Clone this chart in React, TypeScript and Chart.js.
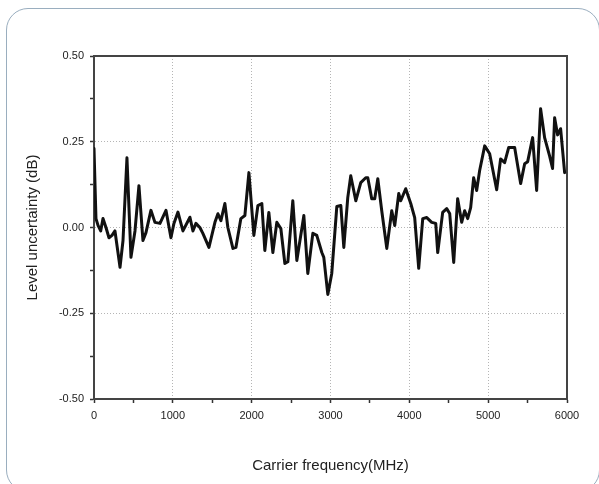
import React, { useEffect, useRef } from "react";
import { Chart, registerables } from "chart.js";

Chart.register(...registerables);

const freqMHz = [
  0, 25, 51, 85, 114, 152, 190, 228, 266, 330, 368, 418, 469, 520, 570, 621, 659, 722, 773, 837,
  913, 976, 1014, 1065, 1128, 1217, 1255, 1293, 1343, 1381, 1458, 1534, 1572, 1610, 1660, 1698, 1762, 1800, 1863, 1914,
  1965, 2028, 2079, 2129, 2167, 2218, 2269, 2319, 2370, 2421, 2459, 2522, 2573, 2662, 2712, 2776, 2826, 2890, 2915, 2966,
  3016, 3080, 3131, 3169, 3219, 3257, 3321, 3384, 3447, 3473, 3523, 3561, 3600, 3650, 3714, 3777, 3815, 3866, 3891, 3954,
  4018, 4068, 4119, 4170, 4221, 4284, 4335, 4360, 4423, 4474, 4512, 4563, 4613, 4664, 4702, 4740, 4778, 4816, 4854, 4892,
  4956, 5019, 5108, 5158, 5209, 5260, 5336, 5412, 5463, 5501, 5564, 5615, 5665, 5716, 5779, 5817, 5843, 5881, 5919, 5970,
];

const levelDb = [
  0.23, 0.026, 0.006, -0.01, 0.026, 0.0, -0.03, -0.023, -0.01, -0.116, -0.038, 0.203, -0.087, -0.01, 0.122, -0.038, -0.015, 0.05, 0.015, 0.012,
  0.05, -0.03, 0.012, 0.045, -0.01, 0.03, -0.01, 0.012, 0.0, -0.017, -0.058, 0.015, 0.04, 0.02, 0.07, 0.0, -0.061, -0.058, 0.026, 0.035,
  0.16, -0.023, 0.064, 0.07, -0.067, 0.044, -0.073, 0.015, -0.003, -0.105, -0.1, 0.078, -0.096, 0.035, -0.134, -0.017, -0.023, -0.073, -0.087, -0.195,
  -0.134, 0.061, 0.064, -0.058, 0.087, 0.151, 0.078, 0.131, 0.145, 0.145, 0.084, 0.084, 0.142, 0.049, -0.061, 0.049, 0.006, 0.099, 0.078, 0.113,
  0.07, 0.029, -0.119, 0.026, 0.029, 0.015, 0.012, -0.073, 0.044, 0.055, 0.041, -0.102, 0.084, 0.015, 0.049, 0.026, 0.058, 0.145, 0.108, 0.166,
  0.238, 0.215, 0.11, 0.2, 0.189, 0.233, 0.233, 0.128, 0.186, 0.192, 0.262, 0.108, 0.346, 0.262, 0.209, 0.172, 0.32, 0.27, 0.288, 0.16,
];

const xTitle = "Carrier frequency(MHz)";
const yTitle = "Level uncertainty (dB)";
const xMin = 0;
const xMax = 6000;
const xMajorStep = 1000;
const xMinorStep = 500;
const yMin = -0.5;
const yMax = 0.5;
const yMajorStep = 0.25;
const yMinorStep = 0.125;

const W = 599;
const H = 484;

const framePlugin = {
  id: "frame",
  beforeDatasetsDraw(chart: any) {
    const { ctx, chartArea } = chart;
    ctx.save();
    ctx.strokeStyle = "#444";
    ctx.lineWidth = 2;
    ctx.strokeRect(chartArea.left, chartArea.top, chartArea.right - chartArea.left, chartArea.bottom - chartArea.top);
    ctx.restore();
  },
};

const isMajor = (v: number, step: number) => Math.abs(v / step - Math.round(v / step)) < 1e-6;

export default function App() {
  const ref = useRef<HTMLCanvasElement | null>(null);

  useEffect(() => {
    if (!ref.current) return;
    const points = freqMHz.map((f, i) => ({ x: f, y: levelDb[i] }));
    const chart = new Chart(ref.current, {
      type: "line",
      data: {
        datasets: [
          {
            data: points,
            borderColor: "#111",
            borderWidth: 3,
            borderJoinStyle: "round",
            borderCapStyle: "round",
            pointRadius: 0,
            tension: 0,
            fill: false,
          },
        ],
      },
      options: {
        animation: false,
        responsive: false,
        devicePixelRatio: 1,
        layout: { padding: { top: 56, right: 32, bottom: 0, left: 0 } },
        plugins: { legend: { display: false }, tooltip: { enabled: false } },
        scales: {
          x: {
            type: "linear",
            min: xMin,
            max: xMax,
            afterFit: (s: any) => {
              s.height = H - 399;
            },
            ticks: {
              stepSize: xMinorStep,
              autoSkip: false,
              maxRotation: 0,
              padding: 6,
              color: "#222",
              font: { family: "Liberation Sans, Arial, sans-serif", size: 11 },
              callback: (v: any) => (isMajor(Number(v), xMajorStep) ? String(v) : ""),
            },
            grid: {
              color: (c: any) => (c.tick && isMajor(c.tick.value, xMajorStep) && c.tick.value !== xMin && c.tick.value !== xMax ? "#b5b5b5" : "rgba(0,0,0,0)"),
              lineWidth: 1,
              tickColor: "#333",
              tickLength: 4,
              tickWidth: 1.5,
              tickBorderDash: [],
            },
            border: { display: true, color: "#444", width: 2, dash: [1, 2] },
            title: {
              display: true,
              text: xTitle,
              color: "#222",
              font: { family: "Liberation Sans, Arial, sans-serif", size: 15 },
              padding: { top: 0, bottom: 9 },
            },
          },
          y: {
            type: "linear",
            min: yMin,
            max: yMax,
            afterFit: (s: any) => {
              s.width = 94;
            },
            ticks: {
              stepSize: yMinorStep,
              autoSkip: false,
              padding: 6,
              color: "#222",
              font: { family: "Liberation Sans, Arial, sans-serif", size: 11 },
              callback: (v: any) => (isMajor(Number(v), yMajorStep) ? Number(v).toFixed(2) : ""),
            },
            grid: {
              color: (c: any) => (c.tick && isMajor(c.tick.value, yMajorStep) && Math.abs(c.tick.value) < 0.49 ? "#b5b5b5" : "rgba(0,0,0,0)"),
              lineWidth: 1,
              tickColor: "#333",
              tickLength: 4,
              tickWidth: 1.5,
              tickBorderDash: [],
            },
            border: { display: true, color: "#444", width: 2, dash: [1, 2] },
            title: {
              display: true,
              text: yTitle,
              color: "#222",
              font: { family: "Liberation Sans, Arial, sans-serif", size: 15 },
              padding: { top: 24, bottom: 0 },
            },
          },
        },
      },
      plugins: [framePlugin],
    } as any);
    return () => chart.destroy();
  }, []);

  return (
    <div style={{ position: "fixed", left: 0, top: 0, width: W, height: H, background: "#fff", overflow: "hidden" }}>
      <div
        style={{
          position: "absolute",
          left: 6,
          top: 8,
          width: 594,
          height: 484,
          border: "1px solid #9aaebf",
          borderRadius: 22,
          boxSizing: "border-box",
        }}
      />
      <canvas ref={ref} width={W} height={H} style={{ position: "absolute", left: 0, top: 0 }} />
    </div>
  );
}
